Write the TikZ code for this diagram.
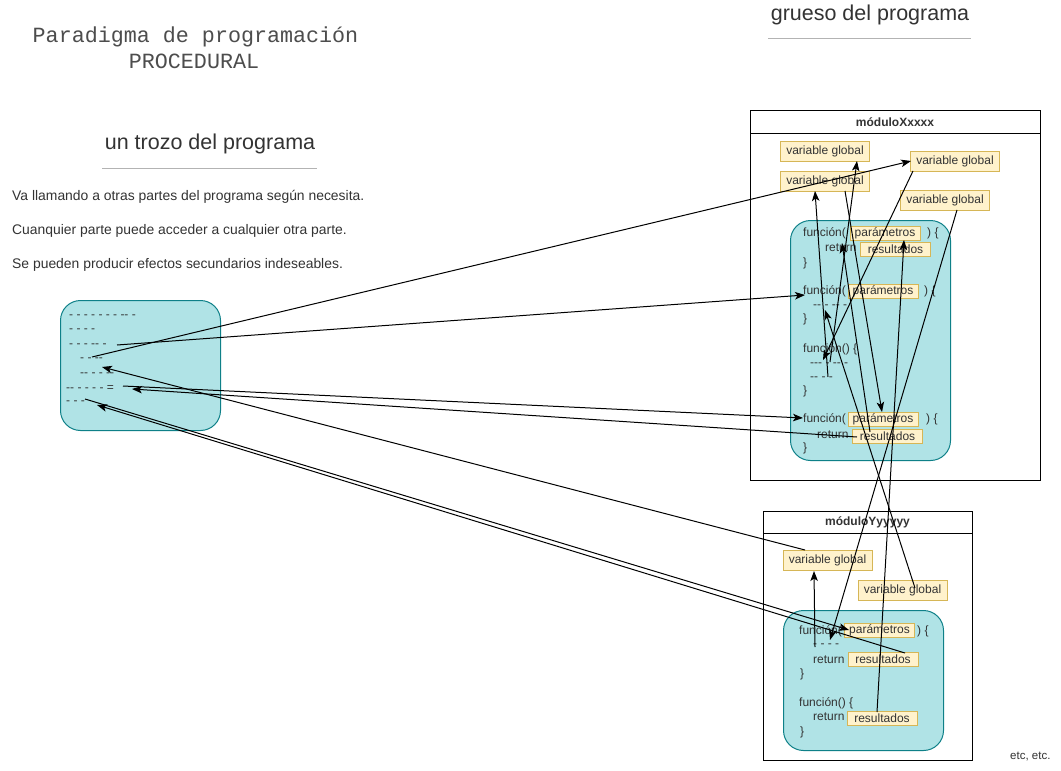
\documentclass[tikz,border=0pt]{standalone}
\usepackage{fontspec}
\setmainfont{Liberation Sans}
\setsansfont{Liberation Sans}
\setmonofont{Liberation Mono}
\usetikzlibrary{arrows.meta}
\definecolor{tealfill}{HTML}{B0E3E6}
\definecolor{tealdraw}{HTML}{0E8088}
\definecolor{yfill}{HTML}{FFF2CC}
\definecolor{ydraw}{HTML}{D6B656}
\definecolor{txtc}{HTML}{333333}
\definecolor{ttlc}{HTML}{4D4D4D}
\definecolor{rulec}{HTML}{B3B3B3}
\newcommand\dpair{-\kern0pt-}
\newcommand\dtriple{-\kern0pt-\kern0pt-}
\begin{document}
\begin{tikzpicture}[x=1pt,y=-1pt,
  lbl/.style={font=\fontsize{12}{14}\selectfont, text=txtc, inner sep=0pt, anchor=west, text height=8.6pt, text depth=0pt},
  body/.style={font=\fontsize{13.9}{16}\selectfont, text=txtc, inner sep=0pt, anchor=west, text height=10pt, text depth=0pt},
  head/.style={font=\fontsize{21.5}{24}\selectfont, text=txtc, inner sep=0pt, anchor=base},
  ttl/.style={font=\ttfamily\fontsize{21.7}{24}\selectfont, text=ttlc, inner sep=0pt, anchor=base},
  vg/.style={font=\fontsize{12}{14}\selectfont, fill=yfill, draw=ydraw, line width=0.9pt, minimum width=89pt, minimum height=20pt, inner sep=0pt, text=txtc},
  pbox/.style={font=\fontsize{12}{14}\selectfont, fill=yfill, draw=ydraw, line width=0.9pt, minimum width=70pt, minimum height=14pt, inner sep=0pt, text=txtc},
  tealbox/.style={fill=tealfill, draw=tealdraw, line width=1pt, rounded corners=20pt, inner sep=0pt, anchor=north west},
  modbox/.style={draw=black, line width=1pt, fill=white, inner sep=0pt, anchor=north west},
  modtitle/.style={font=\bfseries\fontsize{12}{14}\selectfont, text=txtc, inner sep=0pt},
  hrule/.style={draw=rulec, line width=1pt},
  conn/.style={draw=black, line width=1pt, -{Stealth[length=10pt,width=7.5pt,inset=2.5pt]}}
]
\useasboundingbox (0,0) rectangle (1061,771);
\fill[white] (0,0) rectangle (1061,771);

% titles
\node[ttl] (t1) at (195.5,42) {Paradigma de programación};
\node[ttl] (t2) at (194,68) {PROCEDURAL};
\node[head] (hg) at (870,20) {grueso del programa};
\coordinate (hgL) at (768,38); \coordinate (hgR) at (971,38);
\draw[hrule] (hgL) -- (hgR);
\node[head] (ht) at (210,149) {un trozo del programa};
\coordinate (htL) at (102,168); \coordinate (htR) at (317,168);
\draw[hrule] (htL) -- (htR);

\node[body] (b1) at (12,195) {Va llamando a otras partes del programa según necesita.};
\node[body] (b2) at (12,229) {Cuanquier parte puede acceder a cualquier otra parte.};
\node[body] (b3) at (12,263) {Se pueden producir efectos secundarios indeseables.};

% left code box
\node[tealbox, minimum width=160pt, minimum height=130pt] (code) at (60,300) {};
\node[lbl] (d1) at (69,314) {- - - - - - - \dpair{} -};
\node[lbl] (d2) at (69,328) {- - - -};
\node[lbl] (d3) at (69,343) {- - - \dpair{} -};
\node[lbl] (d4) at (80,357) {- - \dpair};
\node[lbl] (d5) at (80,372) {\dpair{} - - \dpair};
\node[lbl] (d6) at (66,387) {\dpair{} - - - - =};
\node[lbl] (d7) at (66,400) {- - -};

% module X
\node[modbox, minimum width=290pt, minimum height=370pt] (modX) at (750,110) {};
\draw[line width=1pt] ([yshift=-23pt]modX.north west) -- ([yshift=-23pt]modX.north east);
\node[modtitle] (tX) at (895,122) {móduloXxxxx};
\node[vg] (vgX1) at (825,151) {variable global};
\node[vg] (vgX2) at (825,181) {variable global};
\node[vg] (vgX3) at (955,161) {variable global};
\node[vg] (vgX4) at (945,200) {variable global};
\node[tealbox, minimum width=160pt, minimum height=240pt] (funX) at (790,220) {};
\node[lbl] (fnX1) at (803,232) {función(};
\node[pbox] (parX1) at (885,233) {parámetros};
\node[lbl] (clX1) at (927,232) {) \{};
\node[lbl] (retX1) at (825,247) {return};
\node[pbox] (resX1) at (895.5,249) {resultados};
\node[lbl] (brX1) at (803,262) {\}};
\node[lbl] (fnX2) at (803,290) {función(};
\node[pbox] (parX2) at (883,291) {parámetros};
\node[lbl] (clX2) at (924,290) {) \{};
\node[lbl] (dsX2) at (813,304) {\dpair{} - \dpair{} -};
\node[lbl] (brX2) at (803,318) {\}};
\node[lbl] (fnX3) at (803,348) {función() \{};
\node[lbl] (dsX3a) at (810,362) {\dtriple{} - \dpair{} -};
\node[lbl] (dsX3b) at (810,376) {\dpair{} - -};
\node[lbl] (brX3) at (803,390) {\}};
\node[lbl] (fnX4) at (803,418) {función(};
\node[pbox] (parX4) at (883,419) {parámetros};
\node[lbl] (clX4) at (926,418) {) \{};
\node[lbl] (retX4) at (817,434) {return};
\node[pbox] (resX4) at (887.5,436) {resultados};
\node[lbl] (brX4) at (803,447) {\}};

% module Y
\node[modbox, minimum width=209pt, minimum height=249pt] (modY) at (763,511) {};
\draw[line width=1pt] ([yshift=-22pt]modY.north west) -- ([yshift=-22pt]modY.north east);
\node[modtitle] (tY) at (867.5,522) {móduloYyyyyy};
\node[vg] (vgY1) at (827.5,560) {variable global};
\node[vg] (vgY2) at (902.5,590) {variable global};
\node[tealbox, minimum width=160pt, minimum height=140pt] (funY) at (783,610) {};
\node[lbl] (fnY1) at (799,630) {función(};
\node[pbox] (parY) at (879.5,630) {parámetros};
\node[lbl] (clY1) at (917,630) {) \{};
\node[lbl] (dsY1) at (813,643) {- - - -};
\node[lbl] (retY1) at (813,659) {return};
\node[pbox] (resY1) at (883,659.5) {resultados};
\node[lbl] (brY1) at (800,673) {\}};
\node[lbl] (fnY2) at (799,702) {función() \{};
\node[lbl] (retY2) at (813,716) {return};
\node[pbox] (resY2) at (882,718.5) {resultados};
\node[lbl] (brY2) at (800,731) {\}};

\node[lbl, font=\fontsize{11.5}{13}\selectfont] (etc) at (1010,755) {etc, etc.};

% connector end points
\coordinate (cL1) at (92,357);   \coordinate (tVX3) at (911,161);
\coordinate (cL2) at (117,345);  \coordinate (tFX2) at (805,295);
\coordinate (cL3) at (123,386);  \coordinate (tFX4) at (803,418);
\coordinate (sRX4) at (857,437); \coordinate (tL3) at (132,389);
\coordinate (sVY1) at (805,550); \coordinate (tL4) at (102,367);
\coordinate (cL5) at (85,399);   \coordinate (tPY) at (849,630);
\coordinate (sRY1) at (905,653); \coordinate (tL5) at (97,405);
\coordinate (sA) at (828,377);   \coordinate (tVX2) at (815,191);
\coordinate (sB) at (830,362);   \coordinate (tVX1) at (857,161);
\coordinate (sH) at (913,171);   \coordinate (tH) at (823,360);
\coordinate (sI) at (845,191);   \coordinate (tPX4) at (882,412);
\coordinate (sJ) at (870,432);   \coordinate (tRX1) at (842,243);
\coordinate (sC) at (915,588);   \coordinate (tC) at (825,310);
\coordinate (sD) at (957,210);   \coordinate (tD) at (830,640);
\coordinate (sE) at (877,712);   \coordinate (tPX1) at (904,240);
\coordinate (sF) at (815,647);   \coordinate (tVY1) at (814,571);

\draw[conn] (cL1) -- (tVX3);
\draw[conn] (cL2) -- (tFX2);
\draw[conn] (cL3) -- (tFX4);
\draw[conn] (sRX4) -- (tL3);
\draw[conn] (sVY1) -- (tL4);
\draw[conn] (cL5) -- (tPY);
\draw[conn] (sRY1) -- (tL5);
\draw[conn] (sA) -- (tVX2);
\draw[conn] (sB) -- (tVX1);
\draw[conn] (sH) -- (tH);
\draw[conn] (sI) -- (tPX4);
\draw[conn] (sJ) -- (tRX1);
\draw[conn] (sC) -- (tC);
\draw[conn] (sD) -- (tD);
\draw[conn] (sE) -- (tPX1);
\draw[conn] (sF) -- (tVY1);
\end{tikzpicture}
\end{document}
